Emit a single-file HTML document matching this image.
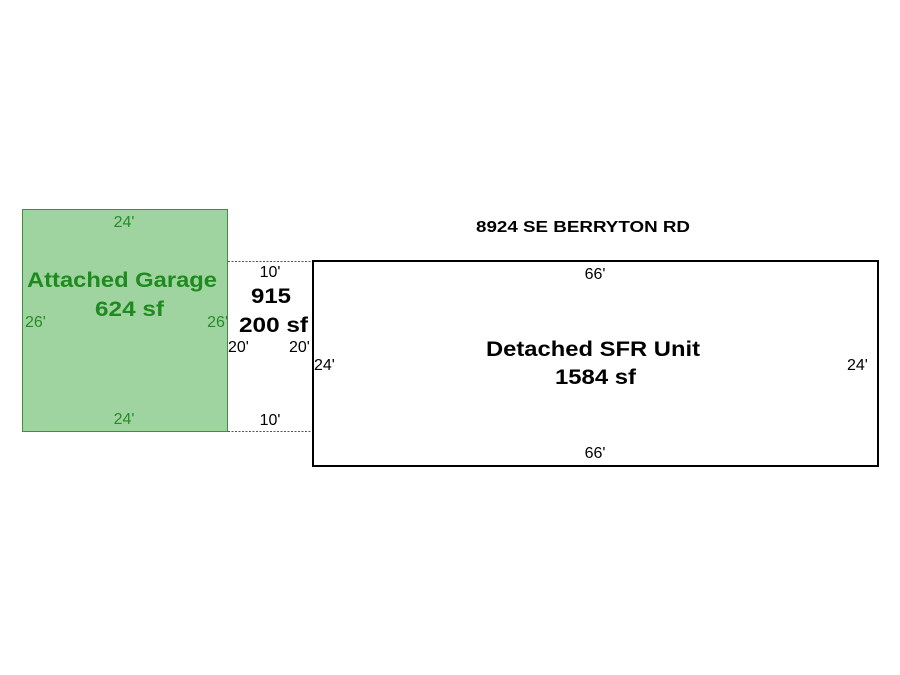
<!DOCTYPE html>
<html><head><meta charset="utf-8"><style>
html,body{margin:0;padding:0;background:#fff;}
svg{display:block;font-family:"Liberation Sans",Arial,sans-serif;}
</style></head><body>
<svg width="900" height="675" viewBox="0 0 900 675">
<rect x="22.5" y="209.5" width="205" height="222" fill="#9fd39f" stroke="#3f8f3f" stroke-width="1"/>
<line x1="228" y1="261.5" x2="313" y2="261.5" stroke="#555" stroke-dasharray="2,1.5" stroke-width="1"/>
<line x1="228" y1="431.5" x2="313" y2="431.5" stroke="#555" stroke-dasharray="2,1.5" stroke-width="1"/>
<rect x="313" y="261" width="565" height="205" fill="none" stroke="#000" stroke-width="2"/>
<g fill="#2a8a2a" font-size="16">
<text x="124" y="227" text-anchor="middle">24'</text>
<text x="124" y="424" text-anchor="middle">24'</text>
<text x="25" y="327">26'</text>
<text x="228" y="327" text-anchor="end">26'</text>
</g>
<g fill="#1f8a1f" font-size="21" font-weight="bold">
<text x="27" y="287" textLength="190" lengthAdjust="spacingAndGlyphs">Attached Garage</text>
<text x="95" y="316" textLength="69" lengthAdjust="spacingAndGlyphs">624 sf</text>
</g>
<g fill="#000" font-size="16">
<text x="270" y="277" text-anchor="middle">10'</text>
<text x="270" y="425" text-anchor="middle">10'</text>
<text x="228" y="352">20'</text>
<text x="289" y="352">20'</text>
<text x="314" y="370">24'</text>
<text x="847" y="370">24'</text>
<text x="595" y="279" text-anchor="middle">66'</text>
<text x="595" y="458" text-anchor="middle">66'</text>
</g>
<g fill="#000" font-weight="bold">
<text x="251" y="303" font-size="21" textLength="40" lengthAdjust="spacingAndGlyphs">915</text>
<text x="239" y="332" font-size="21" textLength="69" lengthAdjust="spacingAndGlyphs">200 sf</text>
<text x="486" y="356" font-size="21" textLength="214" lengthAdjust="spacingAndGlyphs">Detached SFR Unit</text>
<text x="555" y="384" font-size="21" textLength="81" lengthAdjust="spacingAndGlyphs">1584 sf</text>
<text x="476" y="232" font-size="16" textLength="214" lengthAdjust="spacingAndGlyphs">8924 SE BERRYTON RD</text>
</g>
</svg>
</body></html>
